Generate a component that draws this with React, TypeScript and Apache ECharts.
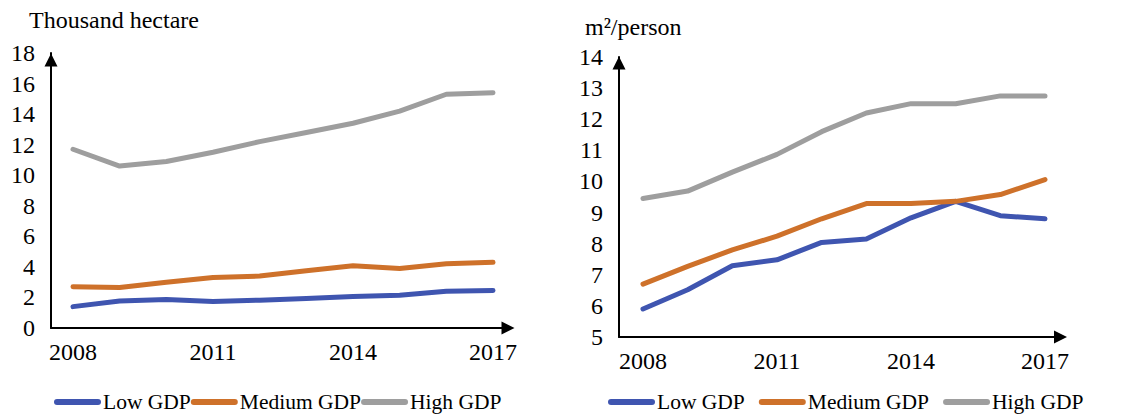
import React, { useEffect, useRef } from "react";
import * as echarts from "echarts";

const years = [2008, 2009, 2010, 2011, 2012, 2013, 2014, 2015, 2016, 2017];
const xTickLabels = [2008, 2011, 2014, 2017];
const seriesNames = ["Low GDP", "Medium GDP", "High GDP"];

// Left panel: Thousand hectare
const leftLow = [1.4, 1.77, 1.86, 1.73, 1.82, 1.93, 2.06, 2.15, 2.4, 2.45];
const leftMedium = [2.7, 2.65, 3.0, 3.3, 3.4, 3.75, 4.07, 3.9, 4.2, 4.3];
const leftHigh = [11.7, 10.6, 10.9, 11.5, 12.2, 12.8, 13.4, 14.2, 15.3, 15.4];

// Right panel: m²/person
const rightLow = [5.9, 6.52, 7.29, 7.48, 8.04, 8.15, 8.83, 9.36, 8.9, 8.8];
const rightMedium = [6.7, 7.27, 7.8, 8.24, 8.8, 9.29, 9.29, 9.36, 9.58, 10.06];
const rightHigh = [9.45, 9.69, 10.3, 10.87, 11.6, 12.2, 12.5, 12.5, 12.75, 12.75];

const colors = ["#3F55B0", "#CE712A", "#9E9E9E"];
const FONT = "'Liberation Serif', 'Times New Roman', serif";

const pairs = (vals: number[]) => years.map((y, i) => [y, vals[i]]);

export default function App() {
  const ref = useRef<HTMLDivElement>(null);
  useEffect(() => {
    document.body.style.margin = "0";
    const chart = echarts.init(ref.current!, null, { renderer: "svg" });
    const axisLine = (offset: number[]) => ({
      show: true,
      lineStyle: { color: "#000", width: 2 },
      symbol: ["none", "triangle"],
      symbolSize: [13, 13],
      symbolOffset: offset,
    });
    const xAxisBase = (grid: number, min: number, max: number) => ({
      type: "value",
      gridIndex: grid,
      min,
      max,
      axisLine: axisLine([0, 0]),
      axisTick: { show: false },
      splitLine: { show: false },
      axisLabel: {
        customValues: xTickLabels,
        color: "#000",
        fontFamily: FONT,
        fontSize: 24,
        margin: 12,
        formatter: (v: number) => String(v),
      },
    });
    const yAxisBase = (grid: number, min: number, max: number, interval: number, off: number) => ({
      type: "value",
      gridIndex: grid,
      min,
      max,
      interval,
      axisLine: axisLine([0, off]),
      axisTick: { show: false },
      splitLine: { show: false },
      axisLabel: { color: "#000", fontFamily: FONT, fontSize: 24, margin: 16 },
    });
    const line = (name: string, idx: number, data: number[][], axis: number) => ({
      name,
      type: "line",
      xAxisIndex: axis,
      yAxisIndex: axis,
      data,
      showSymbol: false,
      symbol: "none",
      color: colors[idx],
      lineStyle: { width: 5, color: colors[idx], cap: "round", join: "round" },
    });
    const icon = "path://M3,0 L44,0 A3,3 0 0 1 44,6 L3,6 A3,3 0 0 1 3,0 Z";
    const legendBase = {
      orient: "horizontal",
      top: 391,
      padding: 0,
      itemWidth: 47,
      itemHeight: 6,
      icon,
      data: seriesNames,
      textStyle: { color: "#000", fontFamily: FONT, fontSize: 21.5, padding: [0, 0, 0, -3] },
      selectedMode: false,
    };
    chart.setOption({
      animation: false,
      backgroundColor: "#fff",
      grid: [
        { left: 51, top: 53, width: 457, height: 275 },
        { left: 619, top: 57, width: 441.5, height: 280 },
      ],
      xAxis: [xAxisBase(0, 2007.529, 2017.321), xAxisBase(1, 2007.463, 2017.347)],
      yAxis: [yAxisBase(0, 0, 18, 2, -7), yAxisBase(1, 5, 14, 1, -6)],
      legend: [
        { ...legendBase, left: 54, itemGap: 0 },
        { ...legendBase, left: 608, itemGap: 14 },
      ],
      graphic: [
        {
          type: "text",
          left: 29,
          top: 8,
          style: { text: "Thousand hectare", fill: "#000", font: `24px ${FONT}` },
        },
        {
          type: "text",
          left: 585,
          top: 15,
          style: { text: "m²/person", fill: "#000", font: `24px ${FONT}` },
        },
      ],
      series: [
        line(seriesNames[0], 0, pairs(leftLow), 0),
        line(seriesNames[1], 1, pairs(leftMedium), 0),
        line(seriesNames[2], 2, pairs(leftHigh), 0),
        line(seriesNames[0], 0, pairs(rightLow), 1),
        line(seriesNames[1], 1, pairs(rightMedium), 1),
        line(seriesNames[2], 2, pairs(rightHigh), 1),
      ],
    });
    return () => chart.dispose();
  }, []);
  return <div ref={ref} style={{ width: 1136, height: 415 }} />;
}
